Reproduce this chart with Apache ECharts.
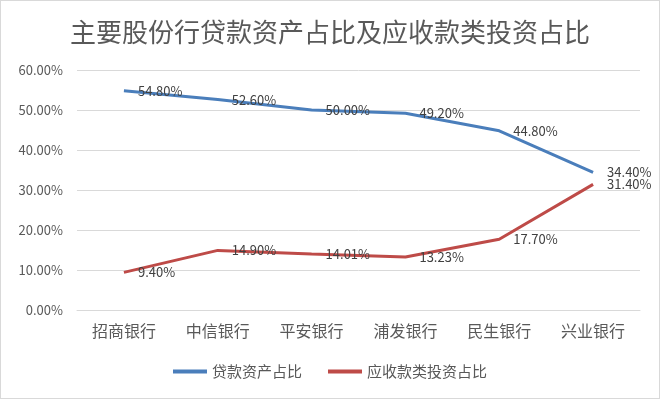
<!DOCTYPE html>
<html>
<head>
<meta charset="utf-8">
<script src="https://cdn.jsdelivr.net/npm/echarts@6/dist/echarts.min.js"></script>
<style>
    html, body { margin: 0; padding: 0; background: #fff; }
    #chart { width: 658px; height: 397px; border: 1px solid #d9d9d9; }
</style>
</head>
<body>
<div id="chart"></div>
<script>
// 数据
const banks = ['招商银行', '中信银行', '平安银行', '浦发银行', '民生银行', '兴业银行'];
const loanRatio = [54.80, 52.60, 50.00, 49.20, 44.80, 34.40];
const receivableRatio = [9.40, 14.90, 14.01, 13.23, 17.70, 31.40];

const chart = echarts.init(document.getElementById('chart'));
const font = '"Microsoft YaHei", "Noto Sans CJK SC", sans-serif';

// 数据标签：放在点的右侧
function lineLabel() {
    return {
        show: true,
        position: 'right',
        distance: 14,
        color: '#404040',
        fontSize: 13,
        fontFamily: font,
        formatter: function (p) {
            return p.value.toFixed(2) + '%';
        }
    };
}

const option = {
    title: {
        text: '主要股份行贷款资产占比及应收款类投资占比',
        left: 'center',
        top: 13,
        textStyle: {
            fontSize: 26,
            fontWeight: 'normal',
            color: '#595959',
            fontFamily: font
        }
    },
    legend: {
        data: ['贷款资产占比', '应收款类投资占比'],
        bottom: 14,
        left: 'center',
        icon: 'rect',
        itemWidth: 34,
        itemHeight: 4,
        itemGap: 26,
        textStyle: {
            fontSize: 15,
            color: '#595959',
            fontFamily: font
        }
    },
    grid: {
        left: 76,
        right: 19,
        top: 69,
        bottom: 88
    },
    xAxis: {
        type: 'category',
        data: banks,
        boundaryGap: true,
        axisLine: { lineStyle: { color: '#d9d9d9' } },
        axisTick: { show: false },
        axisLabel: {
            color: '#595959',
            fontSize: 16,
            margin: 13,
            fontFamily: font
        }
    },
    yAxis: {
        type: 'value',
        min: 0,
        max: 60,
        interval: 10,
        axisLine: { show: false },
        axisTick: { show: false },
        splitLine: { lineStyle: { color: '#d9d9d9' } },
        axisLabel: {
            color: '#595959',
            fontSize: 13,
            margin: 14,
            fontFamily: font,
            formatter: function (v) {
                return v.toFixed(2) + '%';
            }
        }
    },
    series: [
        {
            name: '贷款资产占比',
            type: 'line',
            data: loanRatio,
            showSymbol: true,
            symbol: 'circle',
            symbolSize: 0,
            itemStyle: { color: '#4a7ebb' },
            lineStyle: { width: 3, color: '#4a7ebb' },
            label: lineLabel()
        },
        {
            name: '应收款类投资占比',
            type: 'line',
            data: receivableRatio,
            showSymbol: true,
            symbol: 'circle',
            symbolSize: 0,
            itemStyle: { color: '#be4b48' },
            lineStyle: { width: 3, color: '#be4b48' },
            label: lineLabel()
        }
    ],
    animation: false
};

chart.setOption(option);
</script>
</body>
</html>
